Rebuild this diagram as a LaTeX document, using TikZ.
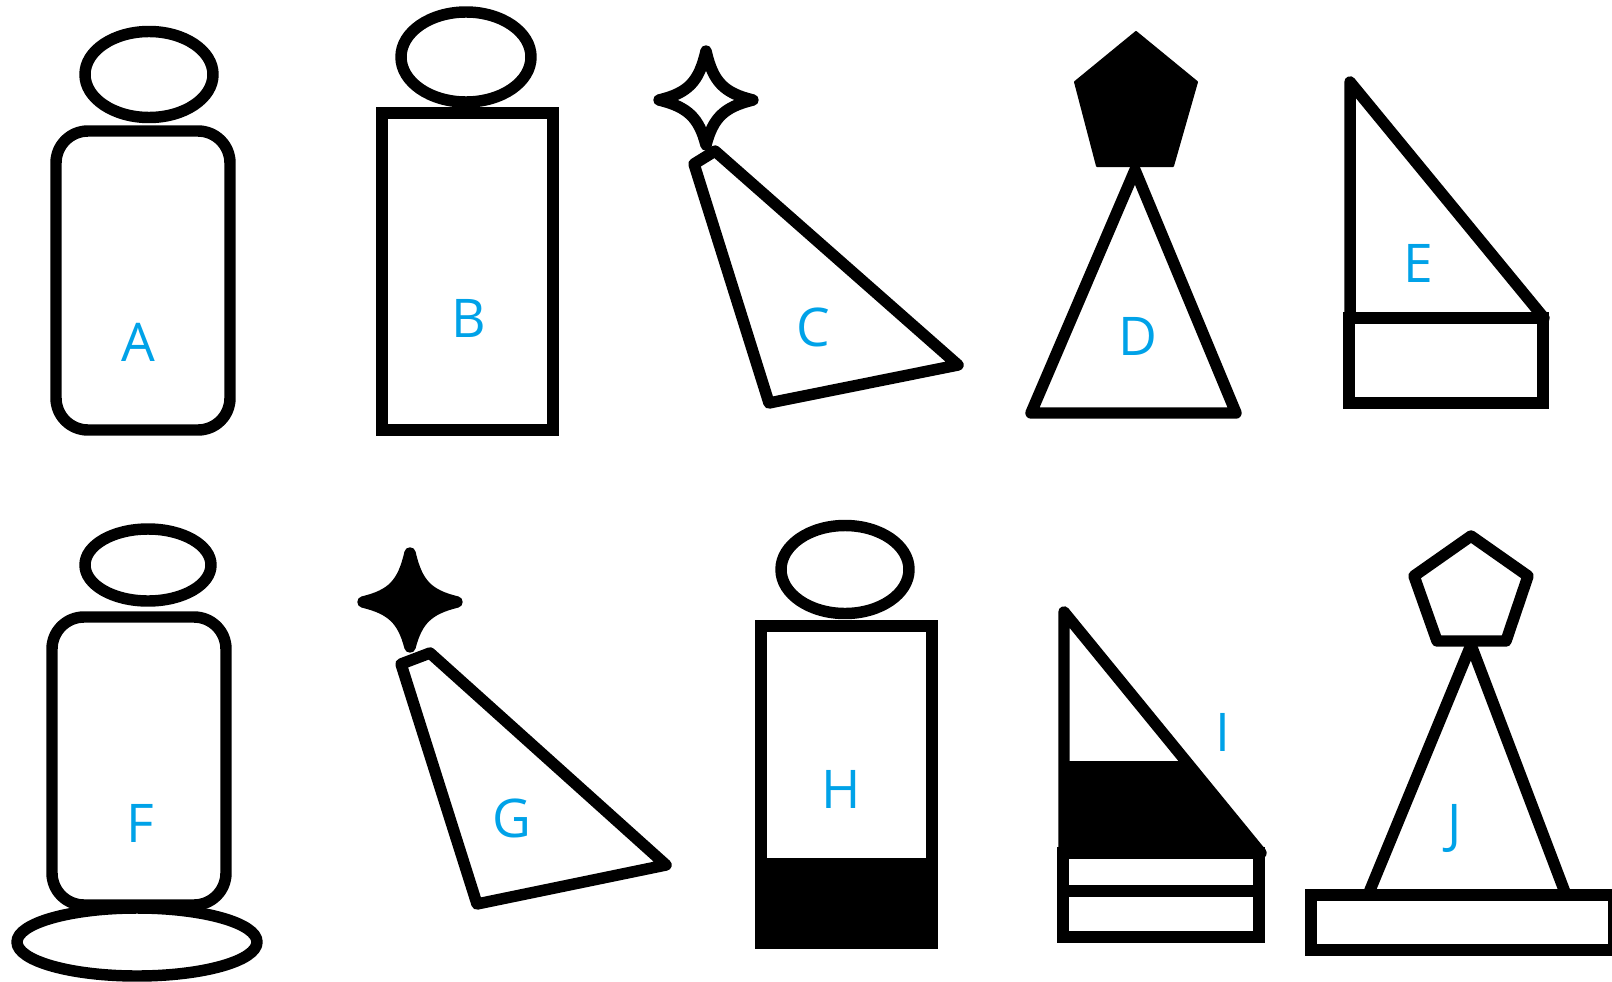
\documentclass[tikz,border=0pt]{standalone}
\usepackage{fontspec}
\setmainfont{Open Sans}
\definecolor{lbl}{HTML}{00A2E8}
\begin{document}
\begin{tikzpicture}[x=0.75pt,y=-0.75pt,
  shp/.style={draw=black,line width=8.6pt,line join=round},
  heavy/.style={draw=black,line width=9pt,line join=miter},
  lab/.style={text=lbl,font=\fontsize{40}{48}\selectfont,inner sep=0pt},
  solidfill/.style={fill=black,draw=black,line width=1.5pt,line join=round},
  star4/.pic={\path[pic actions] (0,-49) .. controls (7,-18) and (18,-7) .. (47,0)
      .. controls (18,7) and (7,18) .. (0,45)
      .. controls (-7,18) and (-18,7) .. (-47,0)
      .. controls (-18,-7) and (-7,-18) .. cycle;}]
\useasboundingbox[fill=white] (0,0) rectangle (1612,981);

% A
\draw[shp] (149,74.5) ellipse [x radius=64,y radius=43];
\draw[shp,rounded corners=24pt] (56,131) rectangle (230,430);
\node[lab] (labA) at (138,342) {A};

% B
\draw[shp] (466,57) ellipse [x radius=65,y radius=45];
\draw[heavy] (381.5,112.5) rectangle (552.5,429.5);
\node[lab] (labB) at (469,318) {B};

% C
\pic[shp] at (706,100) {star4};
\draw[shp] (694,164) -- (715,151) -- (958,365) -- (769,403) -- cycle;
\node[lab] (labC) at (813,327) {C};

% D
\draw[solidfill] (1136,32) -- (1197,82) -- (1173,166) -- (1097,166) -- (1075,82) -- cycle;
\draw[shp] (1135,170) -- (1236,413) -- (1031,413) -- cycle;
\node[lab] (labD) at (1138,336) {D};

% E
\draw[shp] (1350,82) -- (1544,318) -- (1350,318) -- cycle;
\draw[heavy] (1349,318) rectangle (1543,403);
\node[lab] (labE) at (1418,263) {E};

% F
\draw[shp] (148,565) ellipse [x radius=63,y radius=36];
\draw[shp,rounded corners=24pt] (52,617) rectangle (226,905);
\draw[shp] (137,942) ellipse [x radius=120,y radius=34];
\node[lab] (labF) at (140,823) {F};

% G
\pic[shp,fill=black] at (410,602) {star4};
\draw[shp] (401,664) -- (430,653) -- (666,865) -- (477,904) -- cycle;
\node[lab] (labG) at (512,818) {G};

% H
\fill (755.5,858) rectangle (937,948);
\draw[heavy] (761,625.5) rectangle (931.5,942.5);
\draw[shp] (845,569.5) ellipse [x radius=64,y radius=44];
\node[lab] (labH) at (841,789) {H};

% I
\fill (1064,761) -- (1186,761) -- (1261,853) -- (1064,853) -- cycle;
\draw[shp] (1064,612) -- (1261,853) -- (1064,853) -- cycle;
\draw[heavy] (1063,853) rectangle (1259,937);
\draw[heavy] (1063,891) -- (1259,891);
\node[lab] (labI) at (1223,732) {I};

% J
\draw[shp] (1471,536) -- (1528,576) -- (1506,641) -- (1437,641) -- (1414,576) -- cycle;
\draw[shp] (1368,895) -- (1471,645) -- (1566,895);
\draw[heavy] (1311,895) rectangle (1614,950);
\node[lab] (labJ) at (1455,828) {J};
\end{tikzpicture}
\end{document}
